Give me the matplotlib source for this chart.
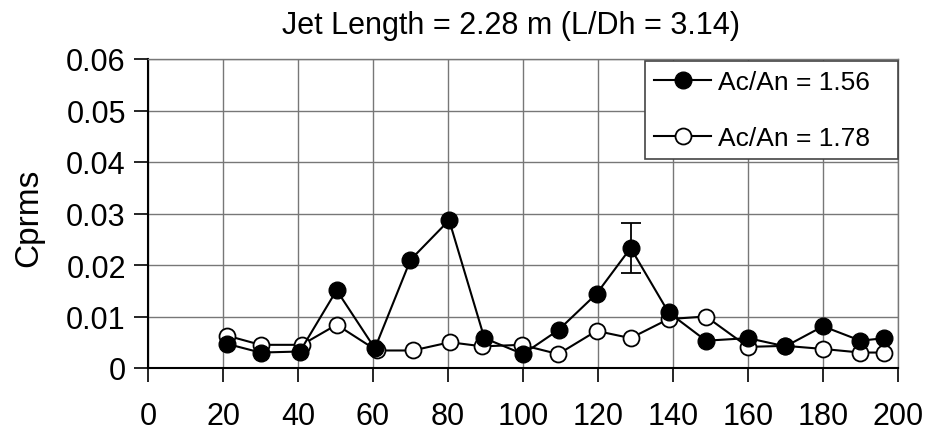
import numpy as np
import matplotlib.pyplot as plt

plt.rcParams['font.family'] = ['Liberation Sans', 'DejaVu Sans']

# Ac/An = 1.56 (filled)
x1 = [21, 30, 40.5, 50.3, 60.5, 70, 80.3, 89.7, 100, 109.5, 119.6, 128.7, 138.8, 148.8, 160, 170, 180, 190, 196.4]
y1 = [0.0047, 0.0030, 0.0032, 0.0151, 0.0038, 0.0210, 0.0287, 0.0058, 0.0027, 0.0074, 0.0144, 0.0233,
      0.0108, 0.0053, 0.0058, 0.0042, 0.0081, 0.0053, 0.0058]
# error bar on the peak at ~129
err_x = 128.7
err_y = 0.0233
err_val = 0.0049

# Ac/An = 1.78 (open)
x2 = [21, 30, 41, 50.3, 61, 70.6, 80.5, 89.2, 99.6, 109.4, 119.6, 128.7, 138.8, 148.8, 160, 170, 180, 190, 196.4]
y2 = [0.0063, 0.0045, 0.0045, 0.0084, 0.0034, 0.0034, 0.0050, 0.0042, 0.0045, 0.0027, 0.0072, 0.0058,
      0.0095, 0.0100, 0.0041, 0.0043, 0.0037, 0.0030, 0.0030]

fig = plt.figure(figsize=(9.28, 4.35), dpi=100)
ax = fig.add_axes([148/928, 1 - 369/435, 750/928, 309/435])

ax.plot(x1, y1, color='black', lw=1.5, marker='o', ms=12, mfc='black', mec='black',
        label='Ac/An = 1.56', zorder=4)
ax.plot(x2, y2, color='black', lw=1.5, marker='o', ms=11.5, mfc='white', mec='black', mew=1.3,
        label='Ac/An = 1.78', zorder=3)
ax.errorbar([err_x], [err_y], yerr=[err_val], fmt='none', ecolor='black', elinewidth=1.3,
            capsize=7, capthick=1.3, zorder=5)

ax.set_xlim(0, 200)
ax.set_ylim(0, 0.06)
ax.set_xticks(np.arange(0, 201, 20))
ax.set_yticks(np.arange(0, 0.061, 0.01))
ax.set_yticklabels(['0', '0.01', '0.02', '0.03', '0.04', '0.05', '0.06'])
ax.tick_params(labelsize=22, length=10, width=1.2, color='black', pad=6)
ax.tick_params(axis='x', pad=14)
ax.grid(True, color='#777777', lw=1.0)
ax.set_axisbelow(True)
for s in ['left', 'bottom']:
    ax.spines[s].set_color('black')
    ax.spines[s].set_linewidth(1.5)
for s in ['top', 'right']:
    ax.spines[s].set_color('#777777')
    ax.spines[s].set_linewidth(1.0)

fig.text(29/928, 1 - 218/435, 'Cprms', rotation=90, fontsize=24, ha='center', va='center')
fig.text(511/928, 1 - 26/435, 'Jet Length = 2.28 m (L/Dh = 3.14)', fontsize=22, ha='center', va='center')

leg = ax.legend(loc='upper left', bbox_to_anchor=(0.6627, 0.9935, 0.3373, 0.0), mode='expand',
                fontsize=19, frameon=True, fancybox=False, borderaxespad=0,
                handlelength=2.15, handletextpad=0.25, labelspacing=1.2, borderpad=0.35)
leg.get_frame().set_edgecolor('#444444')
leg.get_frame().set_linewidth(1.2)
leg.get_frame().set_alpha(1)

fig.savefig('out.png', dpi=100)
